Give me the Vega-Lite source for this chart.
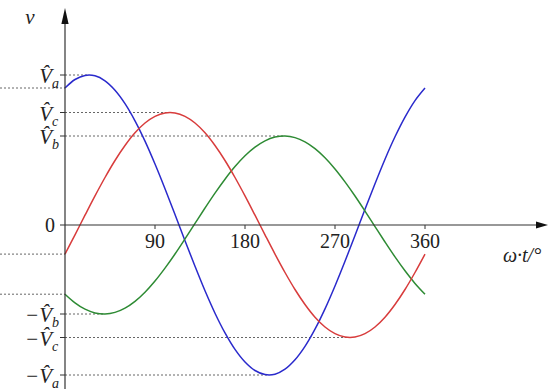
{
  "$schema": "https://vega.github.io/schema/vega-lite/v6.json",
  "width": 549,
  "height": 390,
  "autosize": {"type": "none"},
  "padding": 0,
  "background": "white",
  "config": {"view": {"stroke": null}},
  "datasets": {
    "curves": [
      {"s":"a","t":0,"v":137.0},{"s":"a","t":10,"v":145.5},{"s":"a","t":20,"v":149.6},{"s":"a","t":30,"v":149.2},{"s":"a","t":40,"v":144.2},{"s":"a","t":50,"v":134.8},{"s":"a","t":60,"v":121.4},{"s":"a","t":70,"v":104.2},{"s":"a","t":80,"v":83.9},{"s":"a","t":90,"v":61.0},{"s":"a","t":100,"v":36.3},{"s":"a","t":110,"v":10.5},{"s":"a","t":120,"v":-15.7},{"s":"a","t":130,"v":-41.3},{"s":"a","t":140,"v":-65.8},{"s":"a","t":150,"v":-88.2},{"s":"a","t":160,"v":-107.9},{"s":"a","t":170,"v":-124.4},{"s":"a","t":180,"v":-137.0},{"s":"a","t":190,"v":-145.5},{"s":"a","t":200,"v":-149.6},{"s":"a","t":210,"v":-149.2},{"s":"a","t":220,"v":-144.2},{"s":"a","t":230,"v":-134.8},{"s":"a","t":240,"v":-121.4},{"s":"a","t":250,"v":-104.2},{"s":"a","t":260,"v":-83.9},{"s":"a","t":270,"v":-61.0},{"s":"a","t":280,"v":-36.3},{"s":"a","t":290,"v":-10.5},{"s":"a","t":300,"v":15.7},{"s":"a","t":310,"v":41.3},{"s":"a","t":320,"v":65.8},{"s":"a","t":330,"v":88.2},{"s":"a","t":340,"v":107.9},{"s":"a","t":350,"v":124.4},{"s":"a","t":360,"v":137.0},
      {"s":"b","t":0,"v":-69.2},{"s":"b","t":10,"v":-77.8},{"s":"b","t":20,"v":-84.2},{"s":"b","t":30,"v":-87.9},{"s":"b","t":40,"v":-89.0},{"s":"b","t":50,"v":-87.4},{"s":"b","t":60,"v":-83.1},{"s":"b","t":70,"v":-76.3},{"s":"b","t":80,"v":-67.2},{"s":"b","t":90,"v":-56.0},{"s":"b","t":100,"v":-43.1},{"s":"b","t":110,"v":-29.0},{"s":"b","t":120,"v":-13.9},{"s":"b","t":130,"v":1.6},{"s":"b","t":140,"v":17.0},{"s":"b","t":150,"v":31.9},{"s":"b","t":160,"v":45.8},{"s":"b","t":170,"v":58.4},{"s":"b","t":180,"v":69.2},{"s":"b","t":190,"v":77.8},{"s":"b","t":200,"v":84.2},{"s":"b","t":210,"v":87.9},{"s":"b","t":220,"v":89.0},{"s":"b","t":230,"v":87.4},{"s":"b","t":240,"v":83.1},{"s":"b","t":250,"v":76.3},{"s":"b","t":260,"v":67.2},{"s":"b","t":270,"v":56.0},{"s":"b","t":280,"v":43.1},{"s":"b","t":290,"v":29.0},{"s":"b","t":300,"v":13.9},{"s":"b","t":310,"v":-1.6},{"s":"b","t":320,"v":-17.0},{"s":"b","t":330,"v":-31.9},{"s":"b","t":340,"v":-45.8},{"s":"b","t":350,"v":-58.4},{"s":"b","t":360,"v":-69.2},
      {"s":"c","t":0,"v":-29.1},{"s":"c","t":10,"v":-9.8},{"s":"c","t":20,"v":9.8},{"s":"c","t":30,"v":29.1},{"s":"c","t":40,"v":47.5},{"s":"c","t":50,"v":64.5},{"s":"c","t":60,"v":79.5},{"s":"c","t":70,"v":92.2},{"s":"c","t":80,"v":102.0},{"s":"c","t":90,"v":108.7},{"s":"c","t":100,"v":112.1},{"s":"c","t":110,"v":112.1},{"s":"c","t":120,"v":108.7},{"s":"c","t":130,"v":102.0},{"s":"c","t":140,"v":92.2},{"s":"c","t":150,"v":79.5},{"s":"c","t":160,"v":64.5},{"s":"c","t":170,"v":47.5},{"s":"c","t":180,"v":29.1},{"s":"c","t":190,"v":9.8},{"s":"c","t":200,"v":-9.8},{"s":"c","t":210,"v":-29.1},{"s":"c","t":220,"v":-47.5},{"s":"c","t":230,"v":-64.5},{"s":"c","t":240,"v":-79.5},{"s":"c","t":250,"v":-92.2},{"s":"c","t":260,"v":-102.0},{"s":"c","t":270,"v":-108.7},{"s":"c","t":280,"v":-112.1},{"s":"c","t":290,"v":-112.1},{"s":"c","t":300,"v":-108.7},{"s":"c","t":310,"v":-102.0},{"s":"c","t":320,"v":-92.2},{"s":"c","t":330,"v":-79.5},{"s":"c","t":340,"v":-64.5},{"s":"c","t":350,"v":-47.5},{"s":"c","t":360,"v":-29.1}
    ],
    "guides": [
      {"v":137.0,"x1":-65,"x2":0},
      {"v":-29.1,"x1":-65,"x2":0},
      {"v":-69.2,"x1":-65,"x2":0},
      {"v":150,"x1":0,"x2":24},
      {"v":112.5,"x1":0,"x2":105},
      {"v":89,"x1":0,"x2":219},
      {"v":-89,"x1":0,"x2":39},
      {"v":-112.5,"x1":0,"x2":285},
      {"v":-150,"x1":0,"x2":204}
    ],
    "yticks": [
      {"v":150,"main":"V\u0302","sub":"a"},
      {"v":112.5,"main":"V\u0302","sub":"c"},
      {"v":89,"main":"V\u0302","sub":"b"},
      {"v":-89,"main":"\u2212V\u0302","sub":"b"},
      {"v":-112.5,"main":"\u2212V\u0302","sub":"c"},
      {"v":-150,"main":"\u2212V\u0302","sub":"a"}
    ],
    "xticks": [
      {"t":90,"label":"90"},{"t":180,"label":"180"},{"t":270,"label":"270"},{"t":360,"label":"360"}
    ]
  },
  "layer": [
    {
      "data": {"name": "guides"},
      "mark": {"type": "rule", "color": "#666666", "strokeWidth": 1, "strokeDash": [2, 2]},
      "encoding": {
        "x": {"field": "x1", "type": "quantitative", "scale": {"domain": [-65, 484], "nice": false, "zero": false}, "axis": null},
        "x2": {"field": "x2"},
        "y": {"field": "v", "type": "quantitative", "scale": {"domain": [-165, 225], "nice": false, "zero": false}, "axis": null}
      }
    },
    {
      "data": {"name": "curves"},
      "mark": {"type": "line", "strokeWidth": 1.5, "interpolate": "catmull-rom"},
      "encoding": {
        "x": {"field": "t", "type": "quantitative", "axis": null},
        "y": {"field": "v", "type": "quantitative", "axis": null},
        "color": {"field": "s", "type": "nominal", "scale": {"domain": ["a", "b", "c"], "range": ["#2a2acc", "#2e8b34", "#d83c3c"]}, "legend": null}
      }
    },
    {
      "data": {"name": "yticks"},
      "mark": {"type": "rule", "color": "#333333", "strokeWidth": 1},
      "encoding": {
        "x": {"datum": -5, "type": "quantitative", "axis": null},
        "x2": {"datum": 0},
        "y": {"field": "v", "type": "quantitative", "axis": null}
      }
    },
    {
      "data": {"name": "xticks"},
      "mark": {"type": "rule", "color": "#333333", "strokeWidth": 1},
      "encoding": {
        "x": {"field": "t", "type": "quantitative", "axis": null},
        "y": {"datum": 0, "type": "quantitative", "axis": null},
        "y2": {"datum": -4}
      }
    },
    {
      "data": {"values": [{}]},
      "mark": {"type": "rule", "color": "#333333", "strokeWidth": 1.2},
      "encoding": {
        "x": {"datum": 0, "type": "quantitative", "axis": null},
        "y": {"datum": -164, "type": "quantitative", "axis": null},
        "y2": {"datum": 210}
      }
    },
    {
      "data": {"values": [{}]},
      "mark": {"type": "rule", "color": "#333333", "strokeWidth": 1.2},
      "encoding": {
        "x": {"datum": -5, "type": "quantitative", "axis": null},
        "x2": {"datum": 476},
        "y": {"datum": 0, "type": "quantitative", "axis": null}
      }
    },
    {
      "data": {"values": [{}]},
      "mark": {"type": "point", "shape": "M0,-1L0.45,1L-0.45,1Z", "filled": true, "color": "#111111", "opacity": 1, "size": 256},
      "encoding": {
        "x": {"datum": 0, "type": "quantitative", "axis": null},
        "y": {"datum": 209, "type": "quantitative", "axis": null}
      }
    },
    {
      "data": {"values": [{}]},
      "mark": {"type": "point", "shape": "M1,0L-1,0.6L-1,-0.6Z", "filled": true, "color": "#111111", "opacity": 1, "size": 144},
      "encoding": {
        "x": {"datum": 477, "type": "quantitative", "axis": null},
        "y": {"datum": 0, "type": "quantitative", "axis": null}
      }
    },
    {
      "data": {"name": "xticks"},
      "mark": {"type": "text", "font": "Liberation Serif", "fontSize": 20, "color": "#222222", "align": "center", "baseline": "middle", "dy": 17},
      "encoding": {
        "x": {"field": "t", "type": "quantitative", "axis": null},
        "y": {"datum": 0, "type": "quantitative", "axis": null},
        "text": {"field": "label"}
      }
    },
    {
      "data": {"values": [{"label": "0"}]},
      "mark": {"type": "text", "font": "Liberation Serif", "fontSize": 20, "color": "#222222", "align": "right", "baseline": "middle", "dx": -10, "dy": 1},
      "encoding": {
        "x": {"datum": 0, "type": "quantitative", "axis": null},
        "y": {"datum": 0, "type": "quantitative", "axis": null},
        "text": {"field": "label"}
      }
    },
    {
      "data": {"name": "yticks"},
      "mark": {"type": "text", "font": "Liberation Serif", "fontSize": 21, "fontStyle": "oblique", "color": "#222222", "align": "right", "baseline": "middle", "dx": -13, "dy": 2},
      "encoding": {
        "x": {"datum": 0, "type": "quantitative", "axis": null},
        "y": {"field": "v", "type": "quantitative", "axis": null},
        "text": {"field": "main"}
      }
    },
    {
      "data": {"name": "yticks"},
      "mark": {"type": "text", "font": "Liberation Serif", "fontSize": 14, "fontStyle": "oblique", "color": "#222222", "align": "left", "baseline": "middle", "dx": -13, "dy": 9},
      "encoding": {
        "x": {"datum": 0, "type": "quantitative", "axis": null},
        "y": {"field": "v", "type": "quantitative", "axis": null},
        "text": {"field": "sub"}
      }
    },
    {
      "data": {"values": [{"label": "v"}]},
      "mark": {"type": "text", "font": "Liberation Serif", "fontSize": 21, "fontStyle": "oblique", "color": "#222222", "align": "center", "baseline": "middle"},
      "encoding": {
        "x": {"datum": -35, "type": "quantitative", "axis": null},
        "y": {"datum": 207, "type": "quantitative", "axis": null},
        "text": {"field": "label"}
      }
    },
    {
      "data": {"values": [{"label": "ω·t/°"}]},
      "mark": {"type": "text", "font": "Liberation Serif", "fontSize": 20, "fontStyle": "oblique", "color": "#222222", "align": "center", "baseline": "middle"},
      "encoding": {
        "x": {"datum": 457, "type": "quantitative", "axis": null},
        "y": {"datum": -31, "type": "quantitative", "axis": null},
        "text": {"field": "label"}
      }
    }
  ]
}
